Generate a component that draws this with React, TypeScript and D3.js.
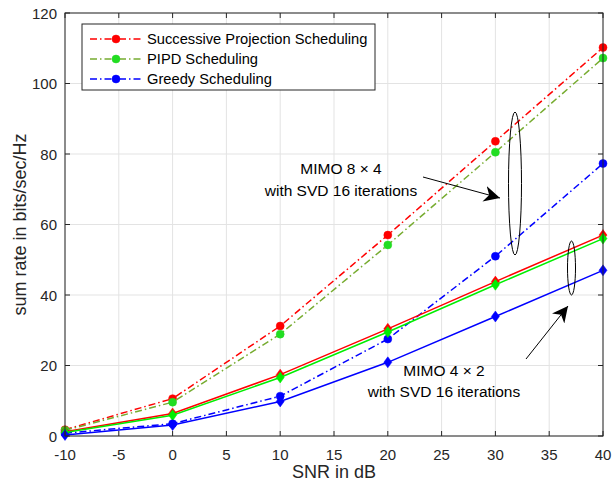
import React from 'react';
import * as d3 from 'd3';

const snr = [-10, 0, 10, 20, 30, 40];

// MIMO 8x4
const sps8x4 = [1.8, 10.6, 31.2, 57, 83.6, 110.2];
const pipd8x4 = [1.6, 9.6, 28.9, 54.2, 80.5, 107.2];
const greedy8x4 = [0.8, 3.5, 11.3, 27.5, 51, 77.3];

// MIMO 4x2
const sps4x2 = [1.2, 6.4, 17.4, 30.4, 43.8, 57];
const pipd4x2 = [1.0, 5.9, 16.6, 29.5, 42.9, 56];
const greedy4x2 = [0.3, 3.1, 9.8, 20.9, 33.9, 47];

const xTicks = [-10, -5, 0, 5, 10, 15, 20, 25, 30, 35, 40];
const yTicks = [0, 20, 40, 60, 80, 100, 120];

const legendNames = ['Successive Projection Scheduling', 'PIPD Scheduling', 'Greedy Scheduling'];

const W = 612, H = 488;
const margin = { left: 65, right: 9, top: 13, bottom: 52 };
const axisColor = '#262626';
const font = 'Liberation Sans, Arial, sans-serif';
const dashDot = '7,3,1.5,3';

type Series = { values: number[]; line: string; fill: string; dashed: boolean; marker: 'circle' | 'diamond' };

const series: Series[] = [
  { values: sps8x4, line: '#ff0000', fill: '#ff0000', dashed: true, marker: 'circle' },
  { values: pipd8x4, line: '#77ac30', fill: '#22dd22', dashed: true, marker: 'circle' },
  { values: greedy8x4, line: '#0000ff', fill: '#0000ff', dashed: true, marker: 'circle' },
  { values: sps4x2, line: '#ff0000', fill: '#ff0000', dashed: false, marker: 'diamond' },
  { values: pipd4x2, line: '#00ee00', fill: '#00ee00', dashed: false, marker: 'diamond' },
  { values: greedy4x2, line: '#0000ff', fill: '#0000ff', dashed: false, marker: 'diamond' },
];

export default function App() {
  const x = d3.scaleLinear().domain([-10, 40]).range([margin.left, W - margin.right]);
  const y = d3.scaleLinear().domain([0, 120]).range([H - margin.bottom, margin.top]);
  const [x0, x1] = x.range();
  const [y0, y1] = y.range();

  const line = d3.line<[number, number]>().x(d => x(d[0])).y(d => y(d[1]));

  const marker = (s: Series, cx: number, cy: number, key: string) =>
    s.marker === 'circle' ? (
      <circle key={key} cx={cx} cy={cy} r={4} fill={s.fill} stroke={s.fill} strokeWidth={0.5} />
    ) : (
      <path key={key} d={`M${cx},${cy - 5.5}L${cx + 4},${cy}L${cx},${cy + 5.5}L${cx - 4},${cy}Z`} fill={s.fill} stroke={s.fill} strokeWidth={0.5} />
    );

  return (
    <svg width={W} height={H} style={{ position: 'absolute', left: 0, top: 0, background: '#fff' }}>
      <rect x={0} y={0} width={W} height={H} fill="#fff" />
      {/* grid */}
      {xTicks.map(t => (
        <line key={'gx' + t} x1={x(t)} x2={x(t)} y1={y0} y2={y1} stroke="#e3e3e3" strokeWidth={1} />
      ))}
      {yTicks.map(t => (
        <line key={'gy' + t} x1={x0} x2={x1} y1={y(t)} y2={y(t)} stroke="#e3e3e3" strokeWidth={1} />
      ))}

      {/* series */}
      {series.map((s, i) => (
        <g key={'s' + i}>
          <path
            d={line(snr.map((v, j) => [v, s.values[j]] as [number, number])) || ''}
            fill="none"
            stroke={s.line}
            strokeWidth={1.5}
            strokeDasharray={s.dashed ? dashDot : undefined}
          />
          {snr.map((v, j) => marker(s, x(v), y(s.values[j]), 'm' + i + '-' + j))}
        </g>
      ))}

      {/* axes box and ticks */}
      <rect x={x0} y={y1} width={x1 - x0} height={y0 - y1} fill="none" stroke={axisColor} strokeWidth={1} />
      {xTicks.map(t => (
        <g key={'tx' + t}>
          <line x1={x(t)} x2={x(t)} y1={y0} y2={y0 - 5} stroke={axisColor} />
          <line x1={x(t)} x2={x(t)} y1={y1} y2={y1 + 5} stroke={axisColor} />
          <text x={x(t)} y={y0 + 24} textAnchor="middle" fontFamily={font} fontSize={15} fill={axisColor}>{t}</text>
        </g>
      ))}
      {yTicks.map(t => (
        <g key={'ty' + t}>
          <line x1={x0} x2={x0 + 5} y1={y(t)} y2={y(t)} stroke={axisColor} />
          <line x1={x1} x2={x1 - 5} y1={y(t)} y2={y(t)} stroke={axisColor} />
          <text x={x0 - 8} y={y(t) + 5.5} textAnchor="end" fontFamily={font} fontSize={15} fill={axisColor}>{t}</text>
        </g>
      ))}

      <text x={(x0 + x1) / 2} y={478} textAnchor="middle" fontFamily={font} fontSize={18} fill={axisColor}>SNR in dB</text>
      <text transform={`translate(26,${(y0 + y1) / 2}) rotate(-90)`} textAnchor="middle" fontFamily={font} fontSize={18} fill={axisColor}>sum rate in bits/sec/Hz</text>

      {/* legend */}
      <rect x={82} y={24} width={293} height={66} fill="#fff" stroke={axisColor} strokeWidth={1} />
      {legendNames.map((name, i) => {
        const s = series[i];
        const ly = 39 + i * 20;
        return (
          <g key={'lg' + i}>
            <line x1={90} x2={142} y1={ly} y2={ly} stroke={s.line} strokeWidth={1.5} strokeDasharray={dashDot} />
            {marker(s, 116, ly, 'lm' + i)}
            <text x={147} y={ly + 5} fontFamily={font} fontSize={14.7} fill="#000">{name}</text>
          </g>
        );
      })}

      {/* annotations */}
      <ellipse cx={515} cy={183.5} rx={6.5} ry={71.5} fill="none" stroke="#000" strokeWidth={1} />
      <ellipse cx={571.5} cy={268} rx={4} ry={27} fill="none" stroke="#000" strokeWidth={1} />
      <defs>
        <marker id="arr" viewBox="0 0 10 10" refX={10} refY={5} markerWidth={16} markerHeight={16} markerUnits="userSpaceOnUse" orient="auto">
          <path d="M0,0L10,5L0,10L3,5Z" fill="#000" />
        </marker>
      </defs>
      <line x1={423} y1={177} x2={500} y2={198} stroke="#000" strokeWidth={1} markerEnd="url(#arr)" />
      <line x1={526} y1={359} x2={568} y2={306} stroke="#000" strokeWidth={1} markerEnd="url(#arr)" />

      <text x={341} y={174} textAnchor="middle" fontFamily={font} fontSize={15.5} fill="#000">MIMO 8 × 4</text>
      <text x={341} y={196} textAnchor="middle" fontFamily={font} fontSize={15.5} fill="#000">with SVD 16 iterations</text>
      <text x={444} y={376} textAnchor="middle" fontFamily={font} fontSize={15.5} fill="#000">MIMO 4 × 2</text>
      <text x={444} y={397} textAnchor="middle" fontFamily={font} fontSize={15.5} fill="#000">with SVD 16 iterations</text>
    </svg>
  );
}
